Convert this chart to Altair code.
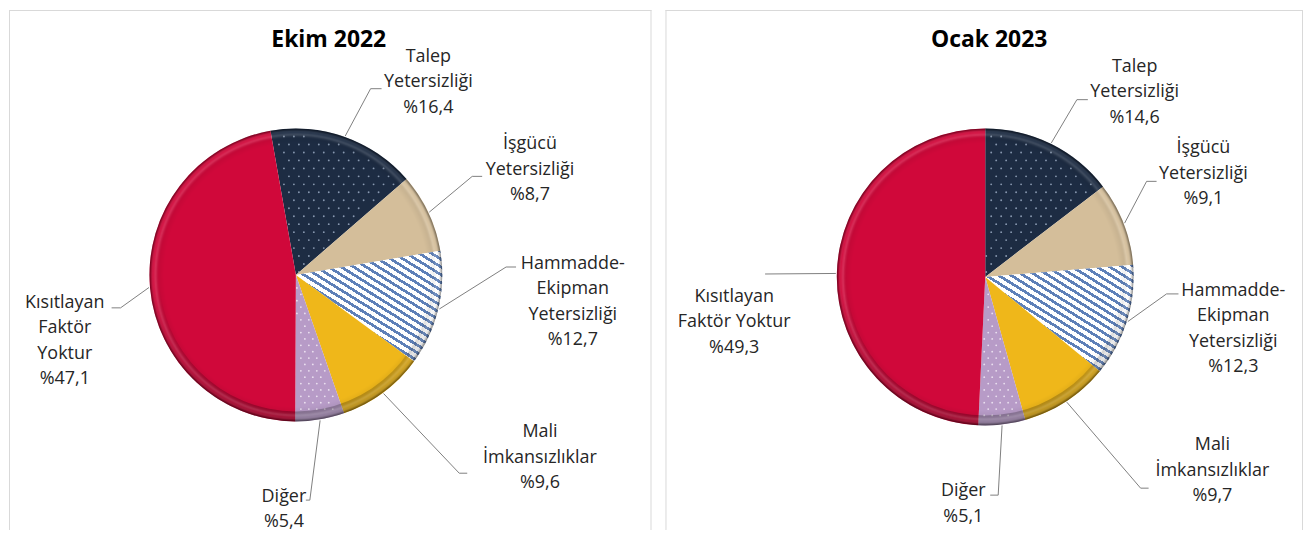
import math
import altair as alt
import pandas as pd

# ---------------- data ----------------
categories = [
    "Talep Yetersizliği",
    "İşgücü Yetersizliği",
    "Hammadde-Ekipman Yetersizliği",
    "Mali İmkansızlıklar",
    "Diğer",
    "Kısıtlayan Faktör Yoktur",
]
period_titles = ["Ekim 2022", "Ocak 2023"]
shares_ekim_2022 = [16.4, 8.7, 12.7, 9.6, 5.4, 47.1]
shares_ocak_2023 = [14.6, 9.1, 12.3, 9.7, 5.1, 49.3]
label_text_ekim_2022 = [
    "Talep\nYetersizliği",
    "İşgücü\nYetersizliği",
    "Hammadde-\nEkipman\nYetersizliği",
    "Mali\nİmkansızlıklar",
    "Diğer",
    "Kısıtlayan\nFaktör\nYoktur",
]
label_text_ocak_2023 = [
    "Talep\nYetersizliği",
    "İşgücü\nYetersizliği",
    "Hammadde-\nEkipman\nYetersizliği",
    "Mali\nİmkansızlıklar",
    "Diğer",
    "Kısıtlayan\nFaktör Yoktur",
]

# ---------------- style ----------------
FONT = "Open Sans"
TEXT_COLOR = "#262626"
LEADER_COLOR = "#7F7F7F"
BORDER_COLOR = "#D9D9D9"
SLICE_COLORS = ["#1D2C43", "#D4BE9A", "STRIPES", "#EFB71A", "#B79BC7", "#D0083A"]
# dotted texture (colour, spacing in px) for the patterned slices
DOT_TEXTURE = {0: ("#9AAAC2", 10), 4: ("#F2EAF6", 8)}
STRIPE_BLUE = "#5E80B8"
STRIPE_WHITE = "#FFFFFF"

# ---------------- layout (page pixel coordinates) ----------------
PAGE_MARGIN = 8
PANEL_H = 522
PANEL_GAP = 12
LAYOUT = [
    {
        "x0": 8, "w": 645, "cx": 296, "cy": 274, "r": 147, "start_deg": -10,
        "title": (329, 45),
        # (text anchor, leader elbow, leader end)
        "labels": [
            ((429, 60), (371, 87), (382, 87)),
            ((531, 148), (473, 175), (483, 175)),
            ((574, 268), (507, 266), (517, 266)),
            ((541, 437), (460, 473), (468, 473)),
            ((284, 502), (310, 500), (306, 500)),
            ((64, 307), (120, 307), (111, 307)),
        ],
    },
    {
        "x0": 665, "w": 640, "cx": 986, "cy": 276, "r": 149, "start_deg": 0,
        "title": (990, 45),
        "labels": [
            ((1136, 70), (1078, 98), (1089, 98)),
            ((1205, 152), (1148, 180), (1158, 180)),
            ((1235, 295), (1168, 293), (1180, 293)),
            ((1214, 450), (1142, 488), (1150, 488)),
            ((964, 496), (999, 495), (991, 495)),
            ((734, 301), (765, 273), (765, 273)),
        ],
    },
]


def stripe_gradient(r, th0, th1, slope=0.62, period=6.6, blue_frac=0.42):
    """Diagonal stripes as a hard-stop linear gradient over the slice's bbox."""
    pts = [(0.0, 0.0)]
    n = 240
    for k in range(n + 1):
        t = th0 + (th1 - th0) * k / n
        pts.append((r * math.sin(t), -r * math.cos(t)))
    xs = [p[0] for p in pts]
    ys = [p[1] for p in pts]
    W = max(xs) - min(xs)
    H = max(ys) - min(ys)
    nx, ny = -slope, 1.0
    nn = math.hypot(nx, ny)
    nx, ny = nx / nn, ny / nn
    g = (nx * W, ny * H)
    proj = [g[0] * u + g[1] * v for u, v in [(0, 0), (1, 0), (0, 1), (1, 1)]]
    fmin, fmax = min(proj), max(proj)
    gg = g[0] ** 2 + g[1] ** 2
    gc = 0.5 * g[0] + 0.5 * g[1]
    a = (fmin - gc) / gg
    b = (fmax - gc) / gg
    N = (fmax - fmin) / period
    stops = []
    k = 0
    while k < N:
        o0 = k / N
        o1 = min((k + blue_frac) / N, 1.0)
        o2 = min((k + 1) / N, 1.0)
        stops += [
            {"offset": o0, "color": STRIPE_BLUE},
            {"offset": o1, "color": STRIPE_BLUE},
            {"offset": o1, "color": STRIPE_WHITE},
            {"offset": o2, "color": STRIPE_WHITE},
        ]
        k += 1
    return {
        "gradient": "linear",
        "x1": 0.5 + a * g[0], "y1": 0.5 + a * g[1],
        "x2": 0.5 + b * g[0], "y2": 0.5 + b * g[1],
        "stops": stops,
    }


RIM_GRADIENT = {
    "gradient": "radial",
    "x1": 0.5, "y1": 0.5, "r1": 0,
    "x2": 0.5, "y2": 0.5, "r2": 0.5,
    "stops": [
        {"offset": 0.0, "color": "rgba(0,0,0,0)"},
        {"offset": 0.90, "color": "rgba(0,0,0,0)"},
        {"offset": 0.935, "color": "rgba(0,0,0,0.05)"},
        {"offset": 0.958, "color": "rgba(255,255,255,0.16)"},
        {"offset": 0.975, "color": "rgba(255,255,255,0.04)"},
        {"offset": 0.99, "color": "rgba(0,0,0,0.25)"},
        {"offset": 1.0, "color": "rgba(0,0,0,0.45)"},
    ],
}

BOTTOM_SHADE = {
    "gradient": "linear",
    "x1": 0, "y1": 0, "x2": 0, "y2": 1,
    "stops": [
        {"offset": 0.0, "color": "rgba(0,0,0,0)"},
        {"offset": 0.55, "color": "rgba(0,0,0,0)"},
        {"offset": 1.0, "color": "rgba(0,0,0,0.25)"},
    ],
}


def pct(v):
    return "%" + f"{v:.1f}".replace(".", ",")


def build_panel(shares, label_text, title, L):
    ox, oy = L["x0"], PAGE_MARGIN
    W, H = L["w"], PANEL_H
    cx, cy, r = L["cx"] - ox, L["cy"] - oy, L["r"]
    total = sum(shares)
    a0 = math.radians(L["start_deg"])

    df = pd.DataFrame({"category": categories, "value": shares})
    df["end"] = df["value"].cumsum()
    df["start"] = df["end"] - df["value"]

    theta_scale = alt.Scale(domain=[0, total], range=[a0, a0 + 2 * math.pi])
    xs = alt.Scale(domain=[0, W], range=[0, W], nice=False, zero=False)
    ys = alt.Scale(domain=[0, H], range=[0, H], nice=False, zero=False)

    base = alt.Chart(df)
    layers = []
    for i, cat in enumerate(categories):
        th0 = a0 + 2 * math.pi * df["start"][i] / total
        th1 = a0 + 2 * math.pi * df["end"][i] / total
        if SLICE_COLORS[i] == "STRIPES":
            fill = stripe_gradient(r, th0, th1)
        else:
            fill = SLICE_COLORS[i]
        layers.append(
            base.transform_filter(alt.datum.category == cat)
            .mark_arc(radius=r, x=cx, y=cy, fill=fill)
            .encode(
                theta=alt.Theta("start:Q", scale=theta_scale),
                theta2="end:Q",
            )
        )
        if i in DOT_TEXTURE:
            dcol, sp = DOT_TEXTURE[i]
            ncol = int(2 * r / sp) + 2
            nrow = int(2 * r / (sp * 0.8)) + 2
            span = th1 - th0
            layers.append(
                alt.Chart(alt.sequence(0, ncol * nrow, as_="i"))
                .transform_calculate(
                    gx=f"datum.i % {ncol}",
                    gy=f"floor(datum.i / {ncol})",
                )
                .transform_calculate(
                    px=f"{cx - r} + datum.gx * {sp} + (datum.gy % 2) * {sp / 2}",
                    py=f"{cy - r} + datum.gy * {sp * 0.8}",
                )
                .transform_calculate(
                    rr=f"sqrt(pow(datum.px - {cx}, 2) + pow(datum.py - {cy}, 2))",
                    ang=f"atan2(datum.px - {cx}, {cy} - datum.py) - {th0}",
                )
                .transform_calculate(
                    rel=f"datum.ang - {2 * math.pi} * floor(datum.ang / {2 * math.pi})",
                )
                .transform_filter(
                    f"datum.rr < {r - 7} && datum.rr > 4 && datum.rel > 0.03 && datum.rel < {span - 0.03}"
                )
                .mark_circle(size=3.5, color=dcol, opacity=0.85)
                .encode(
                    x=alt.X("px:Q", scale=xs, axis=None),
                    y=alt.Y("py:Q", scale=ys, axis=None),
                )
            )

    one = alt.Chart(pd.DataFrame({"k": [0]}))
    layers.append(
        one.mark_arc(radius=r, innerRadius=r - 10, x=cx, y=cy, fill=BOTTOM_SHADE)
        .encode(theta=alt.value(0), theta2=alt.value(2 * math.pi))
    )
    layers.append(
        one.mark_arc(radius=r, x=cx, y=cy, fill=RIM_GRADIENT)
        .encode(theta=alt.value(0), theta2=alt.value(2 * math.pi))
    )

    # leader lines: start on the rim at each slice's mid-angle
    rows = []
    text_rows = []
    for i, cat in enumerate(categories):
        mid = a0 + 2 * math.pi * (df["start"][i] + df["value"][i] / 2) / total
        sx = cx + (r + 1) * math.sin(mid)
        sy = cy - (r + 1) * math.cos(mid)
        (tx, ty), (ex, ey), (nx_, ny_) = L["labels"][i]
        pts = [(sx, sy), (ex - ox, ey - oy), (nx_ - ox, ny_ - oy)]
        for j, (px, py) in enumerate(pts):
            rows.append({"category": cat, "o": j, "px": px, "py": py})
        text_rows.append({
            "category": cat,
            "label": label_text[i] + "\n" + pct(shares[i]),
            "px": tx - ox, "py": ty - oy,
        })

    layers.append(
        alt.Chart(pd.DataFrame(rows))
        .mark_line(color=LEADER_COLOR, strokeWidth=1)
        .encode(
            x=alt.X("px:Q", scale=xs, axis=None),
            y=alt.Y("py:Q", scale=ys, axis=None),
            detail="category:N",
            order="o:Q",
        )
    )
    layers.append(
        alt.Chart(pd.DataFrame(text_rows))
        .mark_text(font=FONT, fontSize=18, lineHeight=25.5, lineBreak="\n",
                   align="center", baseline="alphabetic", color=TEXT_COLOR)
        .encode(
            x=alt.X("px:Q", scale=xs, axis=None),
            y=alt.Y("py:Q", scale=ys, axis=None),
            text="label:N",
        )
    )
    tx, ty = L["title"]
    layers.append(
        alt.Chart(pd.DataFrame({"t": [title], "px": [tx - ox], "py": [ty - oy]}))
        .mark_text(font=FONT, fontSize=23, fontWeight="bold", align="center",
                   baseline="alphabetic", color="#000000")
        .encode(
            x=alt.X("px:Q", scale=xs, axis=None),
            y=alt.Y("py:Q", scale=ys, axis=None),
            text="t:N",
        )
    )
    # panel frame (left, right, top edges)
    layers.append(one.mark_rule(color=BORDER_COLOR, strokeWidth=1).encode(
        x=alt.value(0.5), y=alt.value(0), y2=alt.value(H)))
    layers.append(one.mark_rule(color=BORDER_COLOR, strokeWidth=1).encode(
        x=alt.value(W - 0.5), y=alt.value(0), y2=alt.value(H)))
    layers.append(one.mark_rule(color=BORDER_COLOR, strokeWidth=1).encode(
        x=alt.value(0), x2=alt.value(W), y=alt.value(0.5)))

    return alt.layer(*layers).properties(width=W, height=H)


left = build_panel(shares_ekim_2022, label_text_ekim_2022, period_titles[0], LAYOUT[0])
right = build_panel(shares_ocak_2023, label_text_ocak_2023, period_titles[1], LAYOUT[1])

chart = (
    alt.hconcat(left, right, spacing=PANEL_GAP)
    .properties(padding=0, background="#FFFFFF")
    .configure_view(strokeWidth=0)
)

chart.save("out.html", embed_options={"renderer": "svg", "actions": False})
